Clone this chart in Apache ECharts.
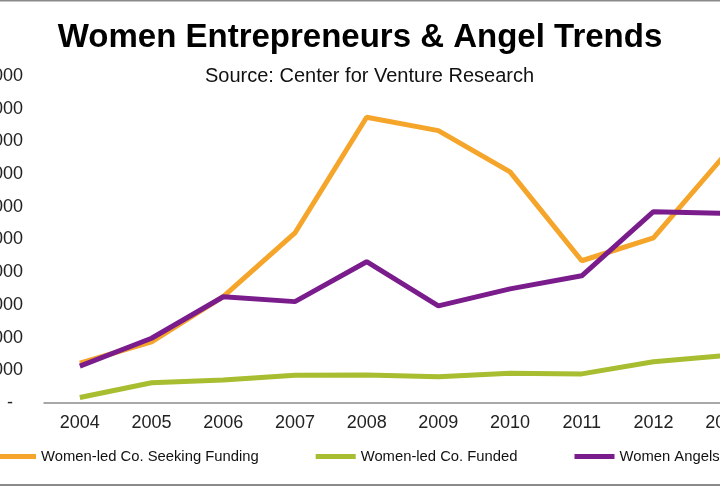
<!DOCTYPE html>
<html>
<head>
<meta charset="utf-8">
<script src="https://cdn.jsdelivr.net/npm/echarts@6/dist/echarts.min.js"></script>
<style>
html,body{margin:0;padding:0;background:#fff;}
#chart{width:720px;height:486px;}
</style>
</head>
<body>
<div id="chart"></div>
<script>
const years = ['2004','2005','2006','2007','2008','2009','2010','2011','2012','2013'];
const seekingFunding = [1220, 1870, 3250, 5200, 8740, 8330, 7070, 4350, 5050, 7600];
const funded = [170, 620, 700, 850, 860, 800, 910, 890, 1260, 1450];
const womenAngels = [1130, 1980, 3250, 3100, 4320, 2970, 3490, 3890, 5850, 5800];
const seriesNames = ['Women-led Co. Seeking Funding', 'Women-led Co. Funded', 'Women Angels'];
const yMax = 10000, yStep = 1000;

const chart = echarts.init(document.getElementById('chart'));
const FONT = '"Liberation Sans", Arial, sans-serif';
chart.setOption({
  backgroundColor: '#ffffff',
  animation: false,
  title: [
    { text: 'Women Entrepreneurs & Angel Trends', left: 'center', top: 16,
      textStyle: { fontFamily: FONT, fontSize: 33, fontWeight: 'bold', color: '#000' } },
    { text: 'Source: Center for Venture Research', left: 200, top: 61,
      textStyle: { fontFamily: FONT, fontSize: 20, fontWeight: 'normal', color: '#111' } }
  ],
  legend: {
    left: -4, top: 449, width: 900, padding: 0, itemWidth: 40, itemHeight: 5, itemGap: 57, icon: 'rect',
    textStyle: { fontFamily: FONT, fontSize: 14.8, color: '#111' },
    data: seriesNames
  },
  grid: { left: 44, width: 717, top: 76, bottom: 83, containLabel: false, outerBoundsMode: 'none' },
  xAxis: {
    type: 'category', data: years, boundaryGap: true,
    axisLine: { lineStyle: { color: '#8c8c8c', width: 1.5 } },
    axisTick: { show: false },
    axisLabel: { fontFamily: FONT, fontSize: 18, color: '#222', margin: 11 }
  },
  yAxis: {
    type: 'value', min: 0, max: yMax, interval: yStep,
    axisLine: { show: false }, axisTick: { show: false }, splitLine: { show: false },
    axisLabel: { fontFamily: FONT, fontSize: 18, color: '#222', margin: 21,
      formatter: v => v === 0 ? '-  ' : (v / 1000) + ',000' }
  },
  graphic: [
    { type: 'rect', shape: { x: 0, y: 0, width: 720, height: 1.5 }, style: { fill: '#8a8a8a' } },
    { type: 'rect', shape: { x: 0, y: 484, width: 720, height: 2 }, style: { fill: '#8a8a8a' } }
  ],
  series: [
    { name: seriesNames[0], type: 'line', data: seekingFunding, showSymbol: false, symbol: 'none',
      lineStyle: { color: '#F5A52A', width: 5 }, itemStyle: { color: '#F5A52A' }, z: 2 },
    { name: seriesNames[1], type: 'line', data: funded, showSymbol: false, symbol: 'none',
      lineStyle: { color: '#A8BD2F', width: 5 }, itemStyle: { color: '#A8BD2F' }, z: 3 },
    { name: seriesNames[2], type: 'line', data: womenAngels, showSymbol: false, symbol: 'none',
      lineStyle: { color: '#7A1C8C', width: 5 }, itemStyle: { color: '#7A1C8C' }, z: 4 }
  ]
});
</script>
</body>
</html>
